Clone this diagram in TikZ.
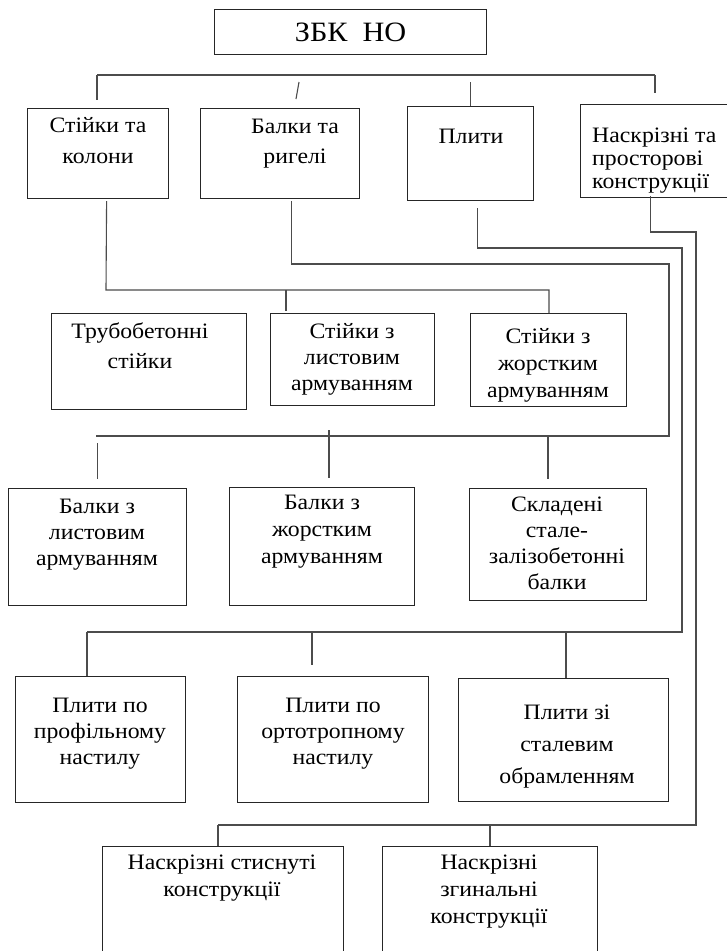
\documentclass[tikz,border=0pt]{standalone}
\usepackage{fontspec}
\setmainfont{Liberation Serif}[FakeStretch=1.08]

\begin{document}
\begin{tikzpicture}[x=1pt,y=-1pt,
  box/.style={draw=black!85,line width=1.2pt,anchor=north west,inner sep=0pt},
  txt/.style={inner sep=0pt,align=center,anchor=base,font=\fontsize{22}{26}\selectfont},
  link/.style={draw=black!70,line width=1.1pt}]
\useasboundingbox[fill=white] (0,0) rectangle (727,951);
\clip (0,0) rectangle (727,951);

\node[box,minimum width=272pt,minimum height=45pt,font=\fontsize{28}{32}\selectfont] (zbk) at (214,9) {ЗБК~~НО};

\node[box,minimum width=141pt,minimum height=90pt] (stk) at (27,108) {};
\node[box,minimum width=159pt,minimum height=90pt] (blk) at (200,108) {};
\node[box,minimum width=126pt,minimum height=94pt] (plt) at (407,106) {};
\node[box,minimum width=150pt,minimum height=93pt] (nsk) at (580,104) {};
\node[txt,font=\fontsize{22}{31}\selectfont] (stk-t) at (98,163) {Стійки та\\колони};
\node[txt,font=\fontsize{22}{30}\selectfont] (blk-t) at (295,163) {Балки та\\ригелі};
\node[txt] (plt-t) at (471,143) {Плити};
\node[txt,anchor=base west,align=left,font=\fontsize{22}{23}\selectfont] (nsk-t) at (592,188) {Наскрізні та\\просторові\\конструкції};

\node[box,minimum width=195pt,minimum height=96pt] (trb) at (51,313) {};
\node[box,minimum width=164pt,minimum height=92pt] (stl) at (270,313) {};
\node[box,minimum width=156pt,minimum height=93pt] (stz) at (470,313) {};
\node[txt,font=\fontsize{22}{30}\selectfont] (trb-t) at (140,368) {Трубобетонні\\стійки};
\node[txt] (stl-t) at (352,390) {Стійки з\\листовим\\армуванням};
\node[txt,font=\fontsize{22}{27}\selectfont] (stz-t) at (548,397) {Стійки з\\жорстким\\армуванням};

\node[box,minimum width=178pt,minimum height=117pt] (bll) at (8,488) {};
\node[box,minimum width=185pt,minimum height=118pt] (blz) at (229,487) {};
\node[box,minimum width=177pt,minimum height=112pt] (skl) at (469,488) {};
\node[txt] (bll-t) at (97,565) {Балки з\\листовим\\армуванням};
\node[txt,font=\fontsize{22}{27}\selectfont] (blz-t) at (322,563) {Балки з\\жорстким\\армуванням};
\node[txt] (skl-t) at (557,589) {Складені\\стале-\\залізобетонні\\балки};

\node[box,minimum width=170pt,minimum height=126pt] (ppr) at (15,676) {};
\node[box,minimum width=191pt,minimum height=126pt] (por) at (237,676) {};
\node[box,minimum width=210pt,minimum height=123pt] (pzs) at (458,678) {};
\node[txt] (ppr-t) at (100,764) {Плити по\\профільному\\настилу};
\node[txt] (por-t) at (333,764) {Плити по\\ортотропному\\настилу};
\node[txt,font=\fontsize{22}{32}\selectfont] (pzs-t) at (567,783) {Плити зі\\сталевим\\обрамленням};

\node[box,minimum width=241pt,minimum height=130pt] (nss) at (102,846) {};
\node[box,minimum width=215pt,minimum height=130pt] (nzg) at (382,846) {};
\node[txt,font=\fontsize{22}{27}\selectfont] (nss-t) at (222,896) {Наскрізні стиснуті\\конструкції};
\node[txt,font=\fontsize{22}{27}\selectfont] (nzg-t) at (489,923) {Наскрізні\\згинальні\\конструкції};

% first level
\coordinate (r1w) at (97,75);
\coordinate (r1e) at (655,75);
\coordinate (t1) at (299,82);
\draw[link] (r1w) -- (r1e);
\draw[link,shorten >=8pt] (r1w) -- (r1w |- stk.north);
\draw[link] (t1) -- ++(-3,17);
\draw[link,shorten <=7pt] (r1w -| plt.north) -- (plt.north);
\draw[link,shorten >=11pt] (r1e) -- (r1e |- nsk.north);

% stijky
\coordinate (r2w) at (106,290);
\coordinate (r2m) at (286,290);
\coordinate (r2e) at (549,290);
\draw[link] ([xshift=8.5pt,yshift=-2pt]stk.south) -- (r2w) -- (r2e) -- (r2e |- stz.north);
\draw[link,shorten >=2pt] (r2m) -- (r2m |- stl.north);

% balky
\coordinate (k3) at (669,264);
\coordinate (r3e) at (669,436);
\coordinate (r3w) at (96,436);
\coordinate (t3) at (329,430);
\coordinate (t3b) at (548,436);
\draw[link] ([xshift=11.5pt,yshift=-2pt]blk.south) |- (k3) -- (r3e) -- (r3w);
\draw[link,shorten <=7pt,shorten >=9pt] (r3w -| bll.north) -- (bll.north);
\draw[link,shorten >=9pt] (t3) -- (t3 |- blz.north);
\draw[link,shorten >=9pt] (t3b) -- (t3b |- skl.north);

% plyty
\coordinate (k4) at (682,248);
\coordinate (r4e) at (682,632);
\coordinate (r4w) at (87,632);
\coordinate (t4) at (312,632);
\coordinate (t4b) at (566,632);
\draw[link] ([xshift=7pt,yshift=-7pt]plt.south) |- (k4) -- (r4e) -- (r4w);
\draw[link] (r4w) -- (r4w |- ppr.north);
\draw[link,shorten >=11pt] (t4) -- (t4 |- por.north);
\draw[link] (t4b) -- (t4b |- pzs.north);

% naskrizni
\coordinate (k5) at (696,232);
\coordinate (r5e) at (696,825);
\coordinate (r5w) at (218,825);
\coordinate (t5) at (490,825);
\draw[link] ([xshift=-5pt,yshift=2pt]nsk.south) |- (k5) -- (r5e) -- (r5w);
\draw[link] (r5w) -- (r5w |- nss.north);
\draw[link] (t5) -- (t5 |- nzg.north);
\end{tikzpicture}
\end{document}
